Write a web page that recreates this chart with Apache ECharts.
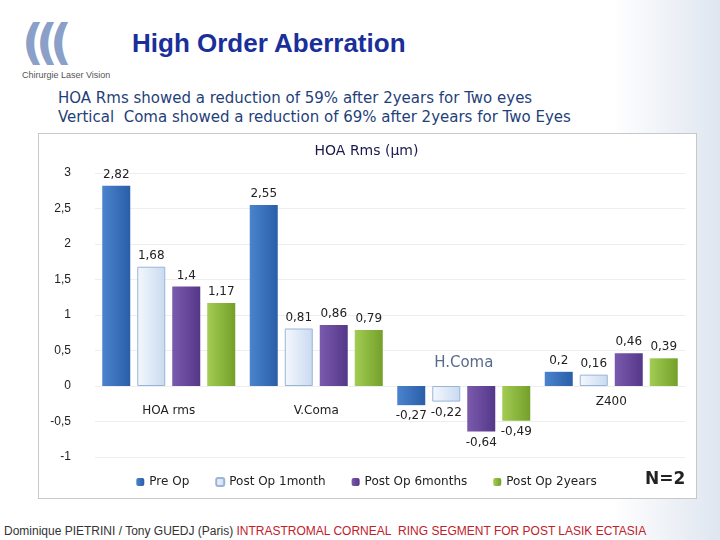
<!DOCTYPE html>
<html><head><meta charset="utf-8">
<script src="https://cdn.jsdelivr.net/npm/echarts@6/dist/echarts.min.js"></script>
<style>
body{margin:0;width:720px;height:540px;background:linear-gradient(90deg,#fff 85%,#dfe6f0);font-family:"DejaVu Sans",sans-serif;position:relative;overflow:hidden}
#t{position:absolute;left:132px;top:28px;font:bold 26px "Liberation Sans",Arial;color:#1a2f9a}
#s{position:absolute;left:58px;top:89px;font:15px "DejaVu Sans";color:#1f3f7a;line-height:19px}
#box{position:absolute;left:38px;top:133px;width:657px;height:364px;background:#fff;border:1px solid #c8c8c8}
#n{position:absolute;left:645px;top:468px;font:bold 17px "DejaVu Sans";color:#222}
#f{position:absolute;left:4px;top:524px;font:12px "Liberation Sans",Arial;color:#333}
#f b{font-weight:normal;color:#c0202a}
#logo{position:absolute;left:22px;top:14px;font:9px "Liberation Sans";color:#555}
#logo span{display:block;font:bold 48px "DejaVu Sans";color:#8aa0c8;letter-spacing:-8px;line-height:56px}
</style></head><body>
<div id="logo"><span>(((</span>Chirurgie Laser Vision</div>
<div id="t">High Order Aberration</div>
<div id="s">HOA Rms showed a reduction of 59% after 2years for Two eyes<br>Vertical&nbsp; Coma showed a reduction of 69% after 2years for Two Eyes</div>
<div id="box"></div>
<div id="c" style="position:absolute;left:38px;top:133px;width:657px;height:364px"></div>
<div id="n">N=2</div>
<div id="f">Dominique PIETRINI / Tony GUEDJ (Paris) <b>INTRASTROMAL CORNEAL&nbsp; RING SEGMENT FOR POST LASIK ECTASIA</b></div>
<script>
var categories = ['HOA rms', 'V.Coma', 'H.Coma', 'Z400'];
var seriesNames = ['Pre Op', 'Post Op 1month', 'Post Op 6months', 'Post Op 2years'];
var preOp = [2.82, 2.55, -0.27, 0.2];
var post1m = [1.68, 0.81, -0.22, 0.16];
var post6m = [1.4, 0.86, -0.64, 0.46];
var post2y = [1.17, 0.79, -0.49, 0.39];
var colors = [['#4a84cc', '#2a5ea8'], ['#f4f8fd', '#c9daf0'], ['#7a5aac', '#55378a'], ['#a2cc52', '#74a02a']];
var values = [preOp, post1m, post6m, post2y];
var labelLift = { 'H.Coma': 'h', 'Z400': 'z' };

var chart = echarts.init(document.getElementById('c'));
chart.setOption({
  animation: false,
  title: { text: 'HOA Rms (µm)', left: 'center', top: 6, textStyle: { fontSize: 14, fontWeight: 'normal', color: '#1a1a50', fontFamily: 'DejaVu Sans' } },
  legend: { bottom: 4, itemWidth: 8, itemHeight: 8, itemGap: 26, textStyle: { fontSize: 12, color: '#222', fontFamily: 'DejaVu Sans' } },
  grid: { left: 57, right: 10, top: 40, bottom: 40 },
  xAxis: { type: 'category', data: categories, axisTick: { show: false }, offset: -40,
    axisLine: { show: false },
    axisLabel: { fontSize: 12, color: '#222', margin: 0, verticalAlign: 'bottom', fontFamily: 'DejaVu Sans',
      formatter: function (v) {
        if (labelLift[v] === 'h') return '{big|' + v + '}\n{hs|}';
        if (labelLift[v] === 'z') return v + '\n{zs|}';
        return v;
      },
      rich: { big: { fontSize: 15, color: '#5a6a8a' }, hs: { height: 46 }, zs: { height: 9 } } } },
  yAxis: { type: 'value', min: -1, max: 3, interval: 0.5,
    axisLabel: { fontSize: 12, color: '#222', margin: 24, formatter: function (v) { return String(v).replace('.', ','); } },
    splitLine: { lineStyle: { color: '#eee' } } },
  series: values.map(function (d, i) {
    return { name: seriesNames[i], type: 'bar', barWidth: 28, barGap: '25%',
      data: d.map(function (v) { return { value: v, label: { position: v < 0 ? 'bottom' : 'top' } }; }),
      itemStyle: { color: new echarts.graphic.LinearGradient(0, 0, 1, 0, [{ offset: 0, color: colors[i][0] }, { offset: 1, color: colors[i][1] }]),
        borderColor: i === 1 ? '#9ab4d8' : null, borderWidth: i === 1 ? 1 : 0 },
      label: { show: true, color: '#222', fontSize: 12, fontFamily: 'DejaVu Sans',
        formatter: function (p) { return String(p.value).replace('.', ','); } }
    };
  })
});
</script></body></html>
